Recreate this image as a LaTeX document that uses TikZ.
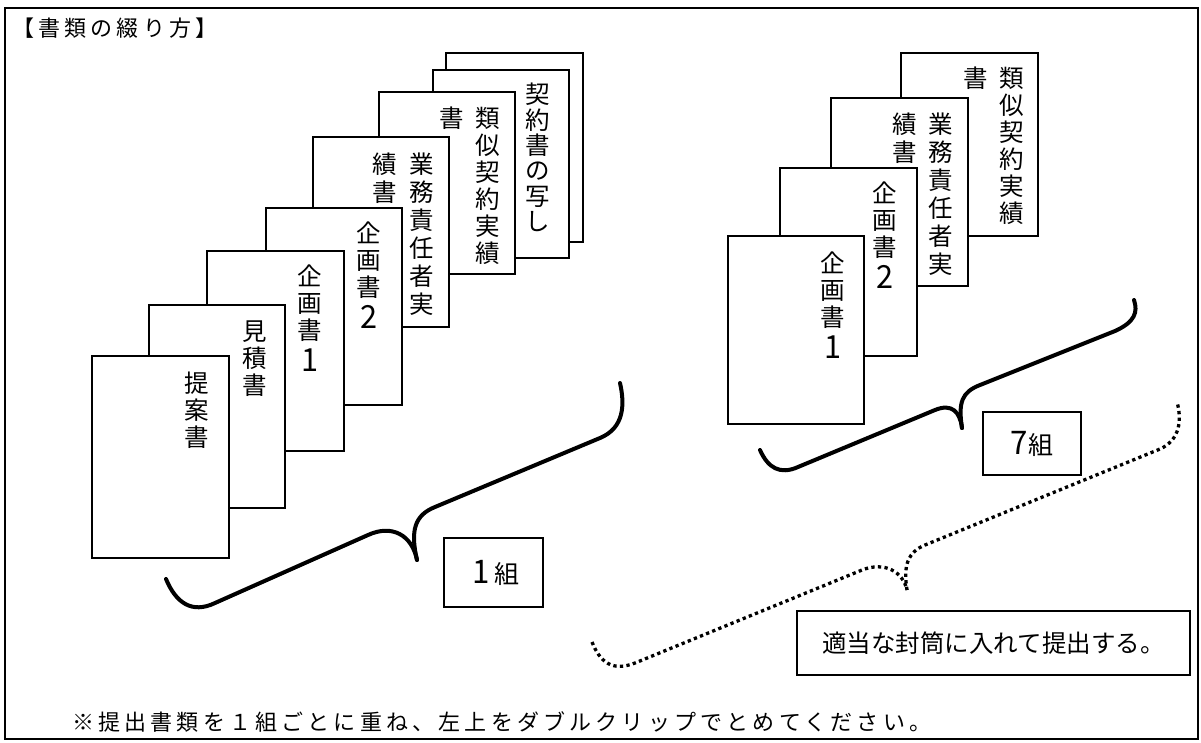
\documentclass[tikz,border=0pt]{standalone}
\usepackage{fontspec}
\setmainfont{Noto Sans CJK JP}
\newfontfamily\notefont[LetterSpace=19]{Noto Sans CJK JP}
\newcommand{\tallnum}[1]{\scalebox{1.25}[1.3]{#1}}
\begin{document}
\begin{tikzpicture}[x=1pt,y=-1pt,
  pg/.style={draw, line width=1.7pt, fill=white, inner sep=0pt},
  vt/.style={anchor=north, align=center, inner sep=0pt, font=\fontsize{24.5}{27}\selectfont},
  lbl/.style={draw, line width=1.6pt, inner sep=0pt},
  brace/.style={line width=4pt, line cap=round, line join=round},
  dbrace/.style={line width=3.3pt, dash pattern=on 3.3pt off 3.3pt},
  note/.style={anchor=west, inner sep=0pt, font=\notefont\fontsize{22}{24}\selectfont}]
\useasboundingbox (0,0) rectangle (1201,742);
\node[draw, line width=2pt, minimum width=1193pt, minimum height=731pt, inner sep=0pt] (frame) at (601.5,373.5) {};
\node[note] (title) at (12,28) {【書類の綴り方】};

% left stack
\node[pg, minimum width=137pt, minimum height=189pt] (L8) at (514.5,147.5) {};
\node[pg, minimum width=136pt, minimum height=188pt] (L7) at (501,164) {};
\node[vt, font=\fontsize{24.5}{25.4}\selectfont] (t7) at (538,83) {契\\約\\書\\の\\写\\し};
\node[pg, minimum width=136pt, minimum height=182pt] (L6) at (447,183) {};
\node[vt] (t6a) at (488,107) {類\\似\\契\\約\\実\\績};
\node[vt] (t6b) at (452,107) {書};
\node[pg, minimum width=136pt, minimum height=190pt] (L5) at (381,232) {};
\node[vt, font=\fontsize{24.5}{28}\selectfont] (t5a) at (422,153) {業\\務\\責\\任\\者\\実};
\node[vt, font=\fontsize{24.5}{28}\selectfont] (t5b) at (385,153) {績\\書};
\node[pg, minimum width=136pt, minimum height=197pt] (L4) at (334,306.5) {};
\node[vt] (t4) at (369,222) {企\\画\\書\\[5pt]\tallnum{2}};
\node[pg, minimum width=137pt, minimum height=200pt] (L3) at (275.5,351) {};
\node[vt] (t3) at (310,265) {企\\画\\書\\[5pt]\tallnum{1}};
\node[pg, minimum width=136pt, minimum height=203pt] (L2) at (217,406.5) {};
\node[vt] (t2) at (255,321) {見\\積\\書};
\node[pg, minimum width=137pt, minimum height=202pt] (L1) at (160.5,457) {};
\node[vt] (t1) at (197,372) {提\\案\\書};

% right stack
\node[pg, minimum width=137pt, minimum height=183pt] (RA) at (969.5,144.5) {};
\node[vt] (tAa) at (1012,67) {類\\似\\契\\約\\実\\績};
\node[vt] (tAb) at (976,67) {書};
\node[pg, minimum width=137pt, minimum height=188pt] (RB) at (899.5,192) {};
\node[vt, font=\fontsize{24.5}{28}\selectfont] (tBa) at (941,113) {業\\務\\責\\任\\者\\実};
\node[vt, font=\fontsize{24.5}{28}\selectfont] (tBb) at (905,113) {績\\書};
\node[pg, minimum width=137pt, minimum height=188pt] (RC) at (848.5,262) {};
\node[vt] (tC) at (885,182) {企\\画\\書\\[5pt]\tallnum{2}};
\node[pg, minimum width=136pt, minimum height=188pt] (RD) at (796,330) {};
\node[vt] (tD) at (833,252) {企\\画\\書\\[5pt]\tallnum{1}};

% braces
\draw[brace] (166,579) .. controls (176,603) and (192,614) .. (215,603)
  -- (368,535) .. controls (392,524) and (412,535) .. (417,560);
\draw[brace] (417,560) .. controls (410,530) and (415,515) .. (435,507)
  -- (600,438) .. controls (624,428) and (625,405) .. (620,383);
\draw[brace] (760,450) .. controls (768,468) and (780,475) .. (798,467)
  -- (935,410) .. controls (952,403) and (960,412) .. (962,428);
\draw[brace] (962,428) .. controls (958,402) and (962,392) .. (980,385)
  -- (1115,331) .. controls (1135,322) and (1138,312) .. (1134,300);
\draw[dbrace] (592,642) .. controls (600,662) and (612,672) .. (635,663)
  -- (862,570) .. controls (885,561) and (903,572) .. (907,590);
\draw[dbrace] (907,590) .. controls (903,565) and (908,552) .. (925,545)
  -- (1160,449) .. controls (1180,440) and (1182,420) .. (1177,402);

% labels
\node[lbl, minimum width=99pt, minimum height=69pt, font=\fontsize{25}{26}\selectfont] (g1) at (493.5,572.5) {\makebox[26pt]{\tallnum{1}}組};
\node[lbl, minimum width=98pt, minimum height=63pt, font=\fontsize{25}{26}\selectfont] (g7) at (1032,443.5) {\tallnum{7}組};
\node[lbl, minimum width=393pt, minimum height=64pt, font=\fontsize{24.5}{26}\selectfont] (env) at (993.5,643) {適当な封筒に入れて提出する。};
\node[note] (foot) at (72,722) {※提出書類を１組ごとに重ね、左上をダブルクリップでとめてください。};
\end{tikzpicture}
\end{document}
